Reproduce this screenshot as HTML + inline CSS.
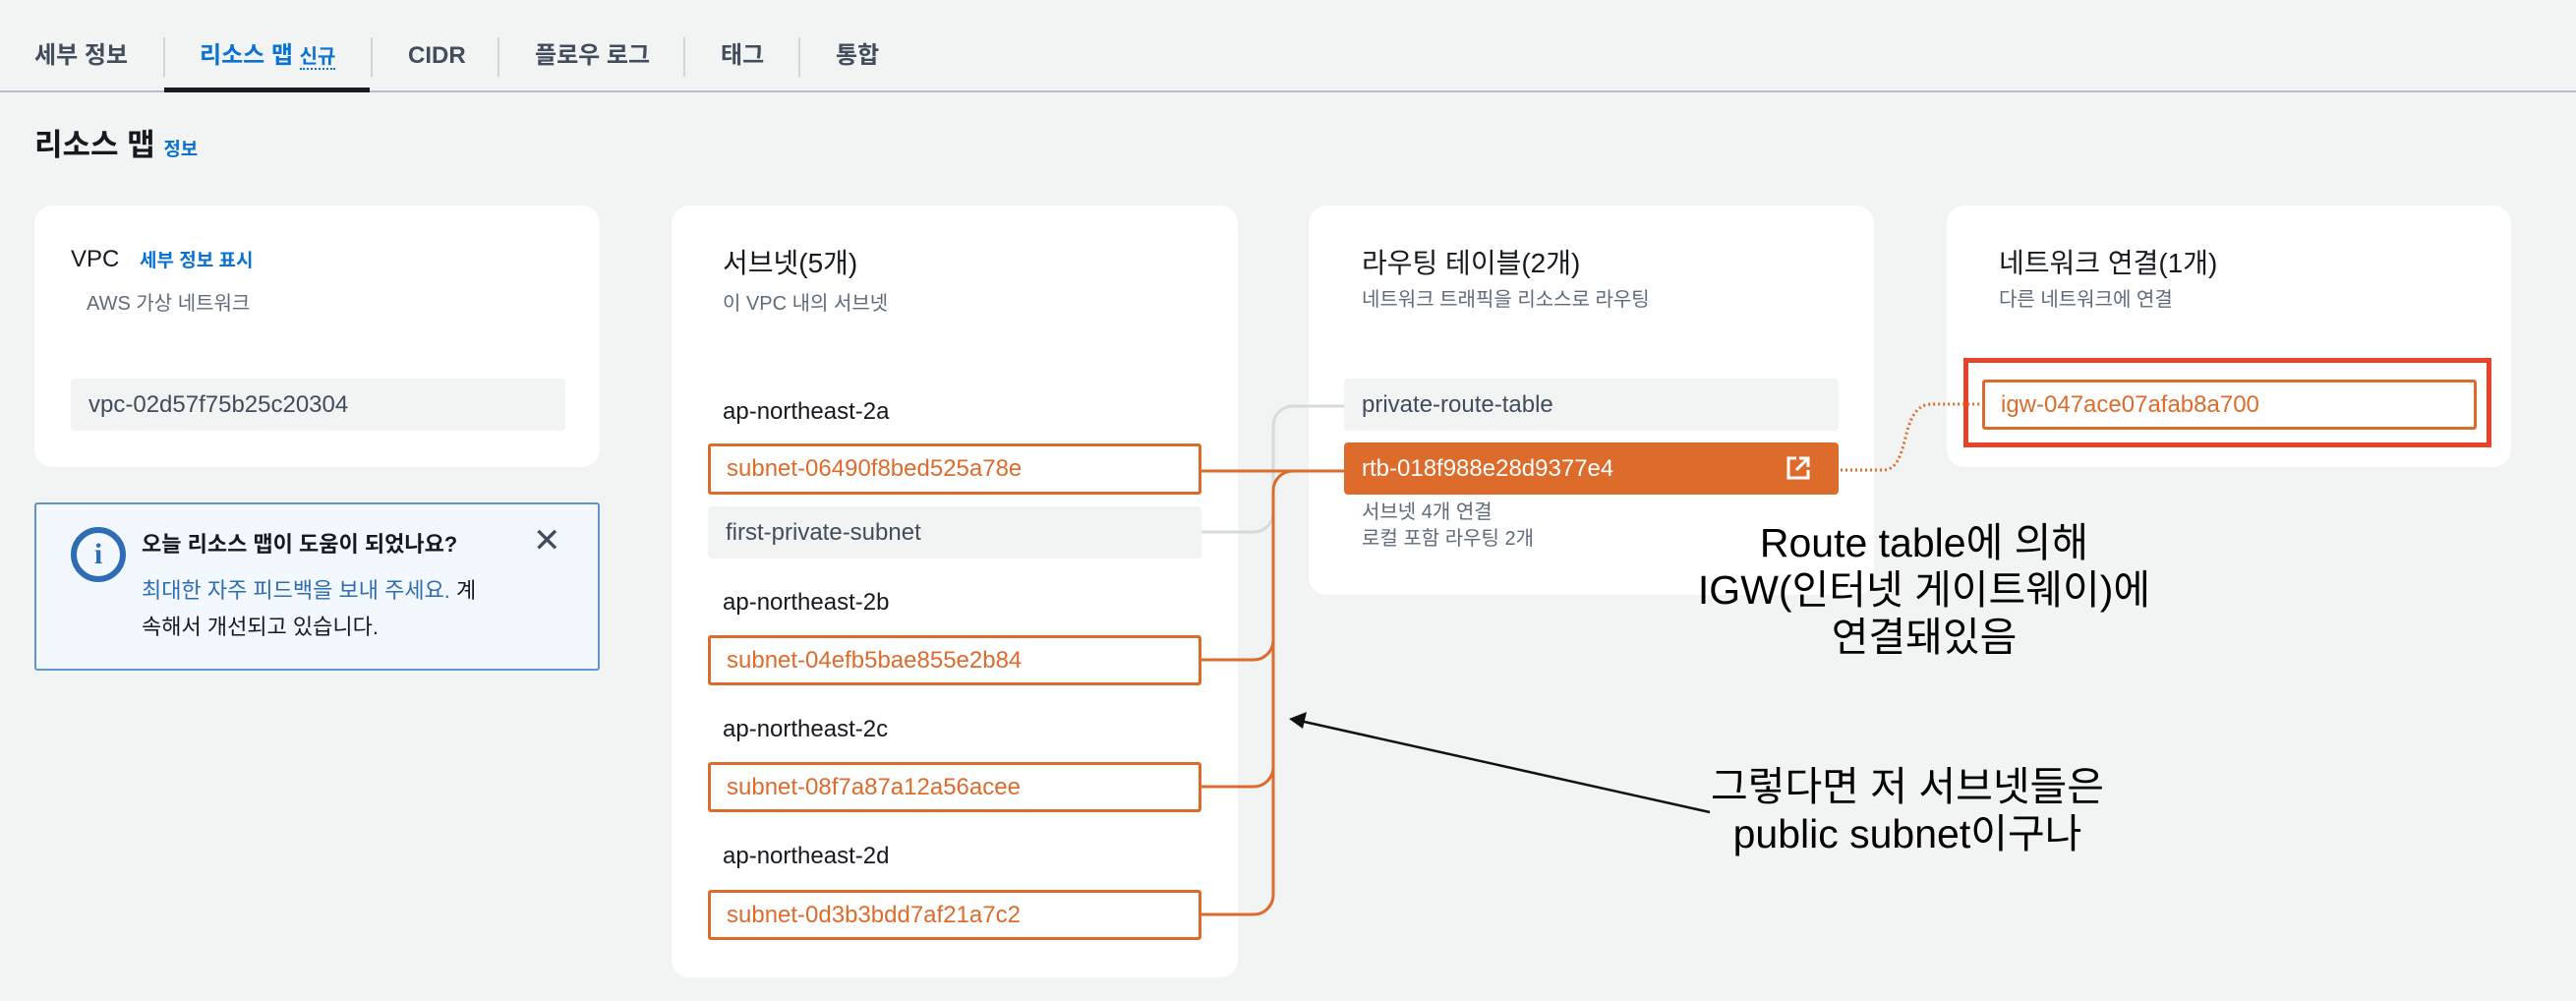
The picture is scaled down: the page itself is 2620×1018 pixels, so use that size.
<!DOCTYPE html>
<html><head><meta charset="utf-8"><style>
*{margin:0;padding:0;box-sizing:border-box}
body{width:2620px;height:1018px;background:#f2f3f3;position:relative;overflow:hidden;font-family:"Liberation Sans","Noto Sans CJK KR",sans-serif;color:#16191f}
.a{position:absolute;white-space:nowrap}
.card{position:absolute;background:#fff;border-radius:18px}
.tab{position:absolute;top:41px;font-size:24px;font-weight:bold;color:#414d5c;line-height:32px}
.sep{position:absolute;top:38px;width:2px;height:40px;background:#d1d5db}
.gbox{position:absolute;background:#f2f3f3;border-radius:4px;font-size:24px;color:#414d5c;line-height:53px;padding-left:18px}
.obox{position:absolute;border:3px solid #dd6b2c;border-radius:3px;font-size:24px;color:#dd6b2c;line-height:46px;padding-left:16px;background:#fff}
.lbl{position:absolute;font-size:24px;color:#16191f}
.h{font-size:28px;color:#16191f}
.sub{font-size:20px;color:#5f6b7a}
.note{position:absolute;font-size:41px;color:#000;text-align:center;line-height:48px;font-family:"Liberation Sans","Noto Sans CJK KR",sans-serif}
</style></head><body>
<div class="tab" style="left:35px">세부 정보</div>
<div class="sep" style="left:166px"></div>
<div class="tab" style="left:203px;color:#0972d3">리소스 맵 <span style="font-size:20px;border-bottom:2px dotted #0972d3">신규</span></div>
<div class="sep" style="left:377px"></div>
<div class="tab" style="left:415px">CIDR</div>
<div class="sep" style="left:506px"></div>
<div class="tab" style="left:544px">플로우 로그</div>
<div class="sep" style="left:695px"></div>
<div class="tab" style="left:733px">태그</div>
<div class="sep" style="left:812px"></div>
<div class="tab" style="left:850px">통합</div>
<div class="a" style="left:0;top:92px;width:2620px;height:2px;background:#b6bec9"></div>
<div class="a" style="left:167px;top:89px;width:209px;height:5px;background:#16191f"></div>

<div class="a" style="left:35px;top:122px;font-size:31px;font-weight:bold">리소스 맵 <span style="font-size:19px;color:#0972d3">정보</span></div>

<div class="card" style="left:35px;top:209px;width:575px;height:266px"></div>
<div class="a" style="left:72px;top:250px;font-size:24px">VPC <span style="font-size:19px;color:#0972d3;font-weight:bold;margin-left:14px">세부 정보 표시</span></div>
<div class="a sub" style="left:88px;top:292px">AWS 가상 네트워크</div>
<div class="gbox" style="left:72px;top:385px;width:503px;height:53px;line-height:53px">vpc-02d57f75b25c20304</div>

<div class="a" style="left:35px;top:511px;width:575px;height:171px;background:#f2f8fd;border:2px solid #5f95c8;border-radius:3px"></div>
<div class="a" style="left:72px;top:536px;width:56px;height:56px;border:6px solid #2e6db4;border-radius:50%;color:#2e6db4;font-weight:bold;font-size:30px;text-align:center;line-height:44px;font-family:'Liberation Serif',serif">i</div>
<div class="a" style="left:144px;top:536px;font-size:22px;font-weight:bold">오늘 리소스 맵이 도움이 되었나요?</div>
<div class="a" style="left:542px;top:530px;font-size:34px;color:#414d5c">✕</div>
<div class="a" style="left:144px;top:582px;font-size:22px;line-height:37px;color:#16191f;white-space:normal;word-break:break-all;width:352px"><span style="color:#2e6db4">최대한 자주 피드백을 보내 주세요.</span> 계속해서 개선되고 있습니다.</div>

<div class="card" style="left:683px;top:209px;width:576px;height:785px"></div>
<div class="a h" style="left:735px;top:246px">서브넷(5개)</div>
<div class="a sub" style="left:735px;top:292px">이 VPC 내의 서브넷</div>
<div class="lbl" style="left:735px;top:405px">ap-northeast-2a</div>
<div class="obox" style="left:720px;top:451px;width:502px;height:52px">subnet-06490f8bed525a78e</div>
<div class="gbox" style="left:720px;top:515px;width:502px;height:53px">first-private-subnet</div>
<div class="lbl" style="left:735px;top:599px">ap-northeast-2b</div>
<div class="obox" style="left:720px;top:646px;width:502px;height:51px">subnet-04efb5bae855e2b84</div>
<div class="lbl" style="left:735px;top:728px">ap-northeast-2c</div>
<div class="obox" style="left:720px;top:775px;width:502px;height:51px">subnet-08f7a87a12a56acee</div>
<div class="lbl" style="left:735px;top:857px">ap-northeast-2d</div>
<div class="obox" style="left:720px;top:905px;width:502px;height:51px">subnet-0d3b3bdd7af21a7c2</div>

<div class="card" style="left:1331px;top:209px;width:575px;height:396px"></div>
<div class="a h" style="left:1385px;top:246px">라우팅 테이블(2개)</div>
<div class="a sub" style="left:1385px;top:288px">네트워크 트래픽을 리소스로 라우팅</div>
<div class="gbox" style="left:1367px;top:385px;width:503px;height:53px">private-route-table</div>
<div class="a" style="left:1367px;top:450px;width:503px;height:53px;background:#dd6b2c;border-radius:4px;color:#fff;font-size:24px;line-height:53px;padding-left:18px">rtb-018f988e28d9377e4</div>
<svg class="a" style="left:1816px;top:463px" width="26" height="26" viewBox="0 0 26 26"><path d="M11 3H3v20h20v-8" fill="none" stroke="#fff" stroke-width="3"/><path d="M14 3h9v9M23 3L11 15" fill="none" stroke="#fff" stroke-width="3"/></svg>
<div class="a sub" style="left:1385px;top:504px">서브넷 4개 연결</div>
<div class="a sub" style="left:1385px;top:531px">로컬 포함 라우팅 2개</div>

<div class="card" style="left:1980px;top:209px;width:574px;height:266px"></div>
<div class="a h" style="left:2033px;top:246px">네트워크 연결(1개)</div>
<div class="a sub" style="left:2033px;top:288px">다른 네트워크에 연결</div>
<div class="a" style="left:1997px;top:364px;width:537px;height:91px;border:5px solid #e8432a"></div>
<div class="obox" style="left:2016px;top:386px;width:503px;height:51px">igw-047ace07afab8a700</div>

<svg class="a" style="left:0;top:0" width="2620" height="1018">
<g fill="none" stroke-width="3">
<path d="M1222 541H1275a20 20 0 0 0 20-20V433a20 20 0 0 1 20-20H1367" stroke="#d5dbdb"/>
<path d="M1222 479H1367" stroke="#dd6b2c"/>
<path d="M1367 479H1315a20 20 0 0 0-20 20V910a20 20 0 0 1-20 20H1222" stroke="#dd6b2c"/>
<path d="M1295 651a20 20 0 0 1-20 20H1222M1295 780a20 20 0 0 1-20 20H1222" stroke="#dd6b2c"/>
<path d="M1872 478H1915C1945 478 1930 411 1965 411H2016" stroke="#dd6b2c" stroke-dasharray="2 3"/>
<path d="M1739 826L1322 733" stroke="#111" stroke-width="2.5"/>
</g>
<path d="M1311 731L1329 724L1325 741Z" fill="#111"/>
</svg>

<div class="note" style="left:1657px;top:528px;width:600px">Route table에 의해<br>IGW(인터넷 게이트웨이)에<br>연결돼있음</div>
<div class="note" style="left:1640px;top:776px;width:600px">그렇다면 저 서브넷들은<br>public subnet이구나</div>
</body></html>
